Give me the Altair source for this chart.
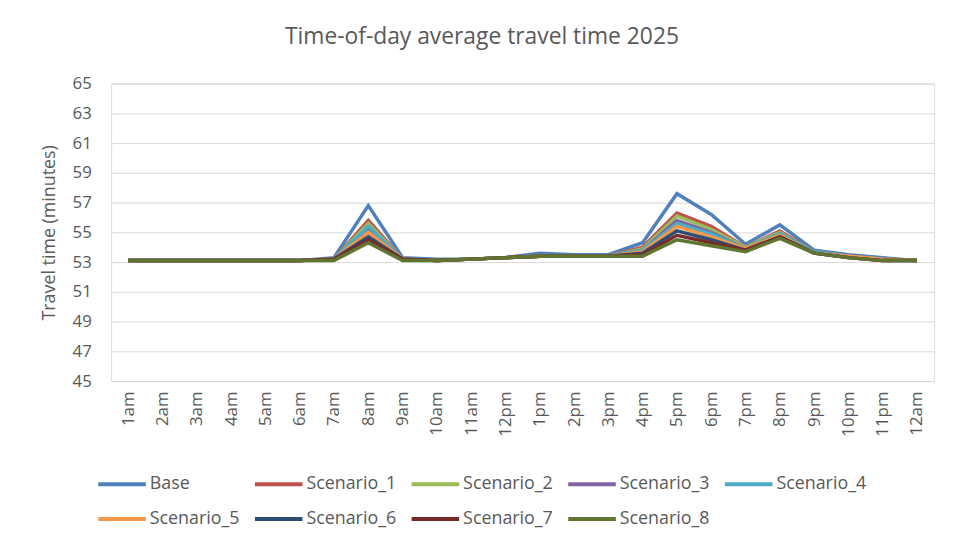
import altair as alt
import pandas as pd

hours = ["1am", "2am", "3am", "4am", "5am", "6am", "7am", "8am", "9am", "10am", "11am", "12pm",
         "1pm", "2pm", "3pm", "4pm", "5pm", "6pm", "7pm", "8pm", "9pm", "10pm", "11pm", "12am"]

series_names = ["Base", "Scenario_1", "Scenario_2", "Scenario_3", "Scenario_4",
                "Scenario_5", "Scenario_6", "Scenario_7", "Scenario_8"]

base = [53.1, 53.1, 53.1, 53.1, 53.1, 53.1, 53.3, 56.8, 53.3, 53.2, 53.2, 53.3,
        53.6, 53.5, 53.5, 54.3, 57.6, 56.2, 54.2, 55.5, 53.8, 53.5, 53.3, 53.1]
s1 = [53.1, 53.1, 53.1, 53.1, 53.1, 53.1, 53.2, 55.8, 53.2, 53.1, 53.2, 53.3,
      53.4, 53.4, 53.4, 54.0, 56.3, 55.4, 54.0, 55.1, 53.7, 53.4, 53.2, 53.1]
s2 = [53.1, 53.1, 53.1, 53.1, 53.1, 53.1, 53.2, 55.6, 53.2, 53.1, 53.2, 53.3,
      53.4, 53.4, 53.4, 53.9, 56.1, 55.2, 54.0, 55.0, 53.7, 53.4, 53.2, 53.1]
s3 = [53.1, 53.1, 53.1, 53.1, 53.1, 53.1, 53.2, 55.3, 53.2, 53.1, 53.2, 53.3,
      53.4, 53.4, 53.4, 53.8, 55.8, 55.0, 53.9, 54.9, 53.7, 53.4, 53.2, 53.1]
s4 = [53.1, 53.1, 53.1, 53.1, 53.1, 53.1, 53.2, 55.4, 53.2, 53.1, 53.2, 53.3,
      53.4, 53.4, 53.4, 53.8, 55.6, 54.9, 53.9, 54.9, 53.7, 53.4, 53.2, 53.1]
s5 = [53.1, 53.1, 53.1, 53.1, 53.1, 53.1, 53.2, 55.0, 53.2, 53.1, 53.2, 53.3,
      53.4, 53.4, 53.4, 53.7, 55.4, 54.7, 53.9, 54.8, 53.6, 53.4, 53.2, 53.1]
s6 = [53.1, 53.1, 53.1, 53.1, 53.1, 53.1, 53.2, 54.7, 53.2, 53.1, 53.2, 53.3,
      53.4, 53.4, 53.4, 53.6, 55.1, 54.5, 53.8, 54.7, 53.6, 53.3, 53.1, 53.1]
s7 = [53.1, 53.1, 53.1, 53.1, 53.1, 53.1, 53.2, 54.5, 53.2, 53.1, 53.2, 53.3,
      53.4, 53.4, 53.4, 53.5, 54.8, 54.3, 53.8, 54.7, 53.6, 53.3, 53.1, 53.1]
s8 = [53.1, 53.1, 53.1, 53.1, 53.1, 53.1, 53.1, 54.3, 53.1, 53.1, 53.2, 53.3,
      53.4, 53.4, 53.4, 53.4, 54.5, 54.1, 53.7, 54.6, 53.6, 53.3, 53.1, 53.1]

colors = ["#4F81BD", "#C0504D", "#9BBB59", "#8064A2", "#4BACC6",
          "#F79646", "#2C4D75", "#772C2A", "#5F7530"]

all_series = [base, s1, s2, s3, s4, s5, s6, s7, s8]
rows = []
for name, vals in zip(series_names, all_series):
    for h, v in zip(hours, vals):
        rows.append({"hour": h, "series": name, "value": v})
df = pd.DataFrame(rows)

grey = "#595959"

chart = alt.Chart(df).mark_line(strokeWidth=3.5).encode(
    x=alt.X("hour:N", sort=hours, scale=alt.Scale(type="point", padding=0.5),
            axis=alt.Axis(title=None, labelAngle=270, labelFontSize=17, labelColor=grey,
                          labelPadding=10, ticks=False, domainColor="#D9D9D9",
                          labelFont="Open Sans")),
    y=alt.Y("value:Q", scale=alt.Scale(domain=[45, 65], nice=False, zero=False),
            axis=alt.Axis(title="Travel time (minutes)", values=list(range(45, 66, 2)),
                          labelFontSize=17, labelColor=grey, titleColor=grey,
                          titleFontSize=18, titleFontWeight="normal", domain=False,
                          ticks=False, gridColor="#D9D9D9", labelPadding=20,
                          titlePadding=14, labelFont="Open Sans", titleFont="Open Sans")),
    color=alt.Color("series:N", sort=series_names,
                    scale=alt.Scale(domain=series_names, range=colors),
                    legend=alt.Legend(title=None, orient="none", legendX=-15, legendY=378,
                                      direction="horizontal",
                                      columns=5, symbolType="stroke", symbolSize=2300,
                                      symbolStrokeWidth=4, labelFontSize=18,
                                      labelColor=grey, gridAlign="all", columnPadding=7,
                                      rowPadding=-10, labelOffset=2, labelFont="Open Sans",
                                      labelLimit=200)),
).properties(
    width=830,
    height=300,
    title=alt.Title("Time-of-day average travel time 2025", fontSize=23, color=grey,
                    fontWeight="normal", font="Open Sans", offset=26, dx=-41),
    autosize=alt.AutoSizeParams(type="none"),
    padding={"left": 104, "top": 74, "right": 13, "bottom": 156},
).configure_view(stroke=None).configure(background="white")

chart.save("out.html", embed_options={"renderer": "svg", "actions": False})
